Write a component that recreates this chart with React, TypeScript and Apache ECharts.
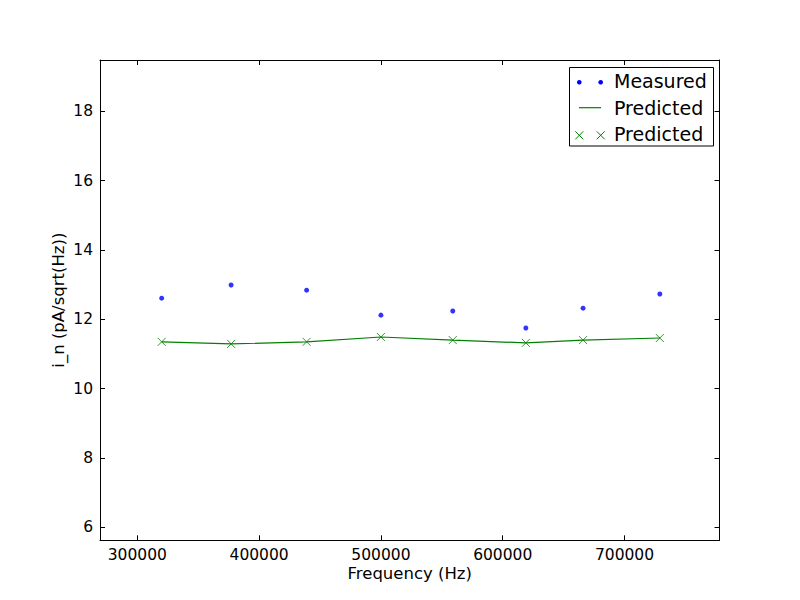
import { useEffect, useRef } from "react";
import * as echarts from "echarts";

const frequencies = [320000, 377000, 439000, 500000, 559000, 619000, 666000, 729000];
const measured = [12.61, 12.99, 12.84, 12.12, 12.24, 11.75, 12.32, 12.73];
const predicted = [11.35, 11.29, 11.35, 11.49, 11.4, 11.32, 11.4, 11.46];
const xTicks = [300000, 400000, 500000, 600000, 700000];
const yTicks = [6, 8, 10, 12, 14, 16, 18];

const FONT = "DejaVu Sans";
const xMark = "path://M0,0L10,10M10,0L0,10";

export default function App(): JSX.Element {
  const chartRef = useRef<HTMLDivElement>(null);
  useEffect(() => {
    const chart = echarts.init(chartRef.current, null, { renderer: "svg" });
    const tickBase = {
      show: true,
      inside: true,
      length: 5,
      lineStyle: { color: "#000", width: 1 },
    };
    const xBase = {
      type: "value",
      min: 269360,
      max: 778000,
      splitLine: { show: false },
      axisLine: { show: true, onZero: false, lineStyle: { color: "#000", width: 1 } },
    };
    const yBase = {
      type: "value",
      min: 5.625,
      max: 19.48,
      splitLine: { show: false },
      axisLine: { show: true, onZero: false, lineStyle: { color: "#000", width: 1 } },
    };
    const green = "#008000";
    const legendX = [579.3, 600.7];
    const option = {
      animation: false,
      backgroundColor: "#fff",
      grid: { left: 100, right: 80.5, top: 60, bottom: 59.7, containLabel: false },
      xAxis: [
        {
          ...xBase,
          position: "bottom",
          name: "Frequency (Hz)",
          nameLocation: "middle",
          nameGap: 25,
          nameMoveOverlap: false,
          nameTextStyle: { fontFamily: FONT, fontSize: 16.5, color: "#000", verticalAlign: "top" },
          axisTick: { ...tickBase, customValues: xTicks },
          axisLabel: {
            customValues: xTicks,
            formatter: (v: number) => String(v),
            margin: 7,
            fontFamily: FONT,
            fontSize: 15.5,
            color: "#000",
          },
        },
        {
          ...xBase,
          position: "top",
          axisTick: { ...tickBase, customValues: xTicks },
          axisLabel: { show: false },
        },
      ],
      yAxis: [
        {
          ...yBase,
          position: "left",
          name: "i_n (pA/sqrt(Hz))",
          nameLocation: "middle",
          nameGap: 33,
          nameMoveOverlap: false,
          nameTextStyle: { fontFamily: FONT, fontSize: 16.5, color: "#000" },
          axisTick: { ...tickBase, customValues: yTicks },
          axisLabel: {
            customValues: yTicks,
            margin: 7,
            fontFamily: FONT,
            fontSize: 15.5,
            color: "#000",
          },
        },
        {
          ...yBase,
          position: "right",
          axisTick: { ...tickBase, customValues: yTicks },
          axisLabel: { show: false },
        },
      ],
      series: [
        {
          name: "Measured",
          type: "scatter",
          data: frequencies.map((f, i) => [f, measured[i]]),
          symbol: "circle",
          symbolSize: 5,
          itemStyle: { color: "#0000ff" },
          silent: true,
        },
        {
          name: "Predicted",
          type: "line",
          data: frequencies.map((f, i) => [f, predicted[i]]),
          showSymbol: false,
          lineStyle: { color: green, width: 1.2 },
          silent: true,
        },
        {
          name: "Predicted markers",
          type: "scatter",
          data: frequencies.map((f, i) => [f, predicted[i]]),
          symbol: xMark,
          symbolSize: 8,
          itemStyle: { color: "none", borderColor: green, borderWidth: 1 },
          silent: true,
        },
      ],
      graphic: [
        {
          type: "rect",
          shape: { x: 569.5, y: 67.5, width: 144, height: 78.5 },
          style: { fill: "#fff", stroke: "#000", lineWidth: 1 },
          z: 100,
        },
        ...legendX.map((x) => ({
          type: "circle",
          shape: { cx: x, cy: 82.3, r: 2.3 },
          style: { fill: "#0000ff" },
          z: 101,
        })),
        {
          type: "line",
          shape: { x1: 579, y1: 107.7, x2: 601, y2: 107.7 },
          style: { stroke: green, lineWidth: 1.2 },
          z: 101,
        },
        ...legendX.flatMap((x) => [
          {
            type: "line",
            shape: { x1: x - 4, y1: 131.3, x2: x + 4, y2: 139.3 },
            style: { stroke: green, lineWidth: 1 },
            z: 101,
          },
          {
            type: "line",
            shape: { x1: x + 4, y1: 131.3, x2: x - 4, y2: 139.3 },
            style: { stroke: green, lineWidth: 1 },
            z: 101,
          },
        ]),
        ...["Measured", "Predicted", "Predicted"].map((t, i) => ({
          type: "text",
          x: 614,
          y: [81, 107.5, 134][i],
          style: {
            text: t,
            fill: "#000",
            font: `19px '${FONT}'`,
            verticalAlign: "middle",
            align: "left",
          },
          z: 101,
        })),
      ],
    };
    chart.setOption(option);
    return () => {
      chart.dispose();
    };
  }, []);

  return (
    <div
      ref={chartRef}
      style={{ position: "absolute", left: 0, top: 0, width: 800, height: 600 }}
    ></div>
  );
}
